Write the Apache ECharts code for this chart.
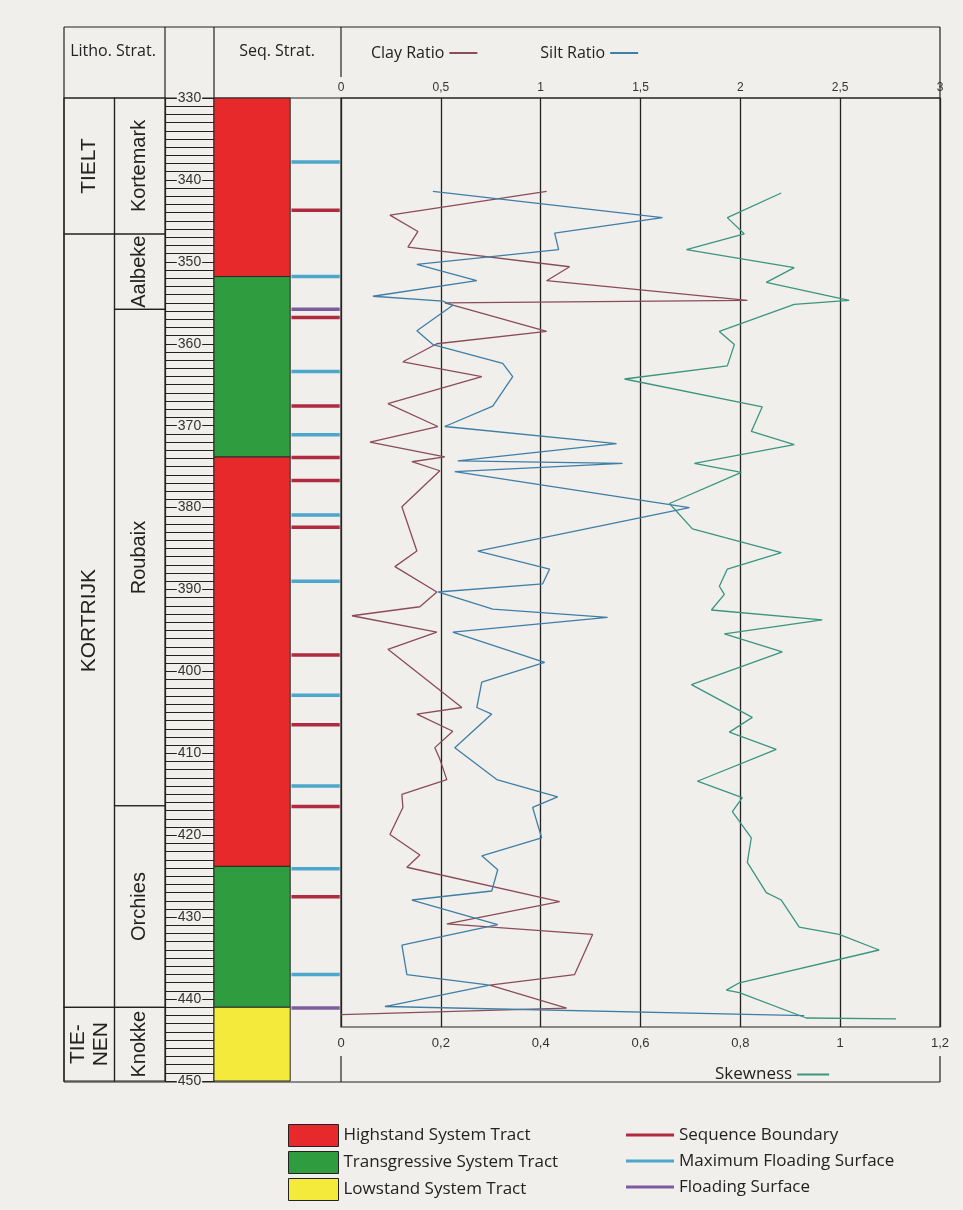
<!DOCTYPE html>
<html>
<head>
<meta charset="utf-8">
<title>Litho / Seq. Strat. log</title>
<script src="https://cdn.jsdelivr.net/npm/echarts@6/dist/echarts.min.js"></script>
<style>
  html, body { margin: 0; padding: 0; background: #f1efeb; }
  #main { width: 963px; height: 1210px; }
</style>
</head>
<body>
<div id="main"></div>
<script>
// ---- litho units (depth in m) ----
const formationNames = ['TIELT', 'KORTRIJK', 'TIE-\nNEN'];
const formationTop = [330, 346.6, 441];
const formationBase = [346.6, 441, 450];
const memberNames = ['Kortemark', 'Aalbeke', 'Roubaix', 'Orchies', 'Knokke'];
const memberTop = [330, 346.6, 355.8, 416.4, 441];
const memberBase = [346.6, 355.8, 416.4, 441, 450];

// ---- system tracts ----
const tractTop = [330, 351.8, 373.8, 423.8, 441.0];
const tractBase = [351.8, 373.8, 423.8, 441.0, 450];
const tractType = ['Highstand System Tract', 'Transgressive System Tract', 'Highstand System Tract', 'Transgressive System Tract', 'Lowstand System Tract'];

// ---- surfaces ----
const seqBoundary = [343.7, 356.8, 367.6, 373.9, 376.7, 382.4, 398.0, 406.5, 416.5, 427.5];
const maxFlooding = [337.8, 351.8, 363.4, 371.1, 380.9, 389.0, 402.9, 414.0, 424.1, 437.0];
const flooding = [355.8, 441.1];

// ---- curves ----
const clayDepth = [341.4, 344.3, 346.3, 348.2, 350.6, 352.3, 354.7, 355.0, 358.5, 360.0, 362.2, 364.0, 367.3, 370.1, 372.0,
  373.8, 374.4, 375.5, 379.9, 385.3, 387.2, 390.3, 392.1, 393.2, 395.2, 397.3, 404.4, 405.2, 407.3, 409.3,
  410.7, 413.2, 415.0, 416.6, 419.9, 422.4, 423.9, 428.1, 430.8, 432.1, 437.0, 438.3, 441.1, 441.9];
const clayRatio = [1.03, 0.245, 0.385, 0.335, 1.145, 1.03, 2.035, 0.52, 1.03, 0.48, 0.31, 0.705, 0.235, 0.485, 0.145,
  0.52, 0.355, 0.495, 0.305, 0.38, 0.27, 0.48, 0.395, 0.055, 0.48, 0.235, 0.605, 0.38, 0.56, 0.47,
  0.495, 0.53, 0.305, 0.31, 0.245, 0.395, 0.33, 1.095, 0.53, 1.26, 1.17, 0.745, 1.13, 0.0];

const siltDepth = [341.4, 344.6, 346.5, 348.5, 350.3, 352.3, 354.2, 354.8, 355.3, 358.4, 360.1, 362.4, 364.0, 367.6, 370.1,
  372.2, 374.3, 374.6, 375.6, 380.0, 385.3, 387.5, 389.3, 390.3, 392.4, 393.4, 395.2, 398.9, 401.3, 404.4,
  405.2, 409.3, 413.2, 415.3, 416.6, 418.7, 420.3, 422.5, 424.2, 426.8, 427.9, 430.9, 433.4, 437.0, 438.3,
  440.9, 442.0];
const siltRatio = [0.46, 1.61, 1.07, 1.09, 0.38, 0.68, 0.16, 0.51, 0.56, 0.38, 0.46, 0.81, 0.86, 0.76, 0.52,
  1.38, 0.585, 1.41, 0.57, 1.745, 0.685, 1.045, 1.01, 0.485, 0.76, 1.335, 0.56, 1.02, 0.705, 0.68,
  0.755, 0.57, 0.78, 1.085, 0.96, 0.985, 1.005, 0.705, 0.785, 0.755, 0.355, 0.785, 0.305, 0.33, 0.745,
  0.22, 2.32];

const skewDepth = [341.6, 344.6, 346.6, 348.5, 350.7, 352.5, 354.7, 355.2, 358.5, 360.1, 362.7, 364.3, 367.7, 370.7, 372.3,
  374.6, 375.7, 379.5, 382.6, 385.5, 387.5, 389.6, 390.6, 392.5, 393.7, 395.4, 397.6, 401.6, 405.6, 407.4,
  409.5, 413.4, 415.4, 417.1, 420.3, 423.3, 427.0, 427.9, 431.2, 432.1, 434.0, 438.0, 438.9, 439.2, 442.3, 442.4];
const skewness = [0.882, 0.774, 0.808, 0.692, 0.908, 0.852, 1.018, 0.908, 0.758, 0.788, 0.774, 0.568, 0.844, 0.822, 0.908,
  0.708, 0.802, 0.658, 0.704, 0.882, 0.774, 0.758, 0.768, 0.742, 0.964, 0.768, 0.884, 0.702, 0.824, 0.778,
  0.872, 0.714, 0.804, 0.784, 0.822, 0.814, 0.852, 0.882, 0.918, 0.998, 1.078, 0.798, 0.772, 0.798, 0.932, 1.112];

const PAPER = '#f1efeb';
const INK = '#222';
const tractColors = { 'Highstand System Tract': '#e8292b', 'Transgressive System Tract': '#2f9d3f', 'Lowstand System Tract': '#f3ea3c' };

function zip(a, b) { return a.map((v, i) => [v, b[i]]); }
function comma(v) { return String(v).replace('.', ','); }

function unitItem(names, col, fontSize) {
  return function (params, api) {
    const p0 = api.coord([col, api.value(0)]);
    const p1 = api.coord([col + 1, api.value(1)]);
    const w = p1[0] - p0[0], h = p1[1] - p0[1];
    return {
      type: 'group',
      children: [
        { type: 'rect', shape: { x: p0[0], y: p0[1], width: w, height: h },
          style: { fill: 'none', stroke: INK, lineWidth: 1.2 } },
        { type: 'text', x: p0[0] + w / 2, y: p0[1] + h / 2, rotation: Math.PI / 2,
          style: { text: names[params.dataIndex], fontSize: fontSize, fontFamily: 'Liberation Sans',
            fill: INK, align: 'center', verticalAlign: 'middle', lineHeight: fontSize + 2 } }
      ]
    };
  };
}

function tractItem(params, api) {
  const a = api.coord([0, api.value(0)]);
  const b = api.coord([0.6, api.value(1)]);
  return { type: 'rect', shape: { x: a[0], y: a[1], width: b[0] - a[0], height: b[1] - a[1] },
    style: { fill: api.visual('color'), stroke: '#2a2a2a', lineWidth: 1 } };
}

function surfaceItem(params, api) {
  const a = api.coord([0.61, api.value(0)]);
  const b = api.coord([0.99, api.value(0)]);
  return { type: 'line', shape: { x1: a[0], y1: a[1], x2: b[0], y2: b[1] },
    style: { stroke: api.visual('color'), lineWidth: 3.5 } };
}

function tractSeries(name) {
  const data = [];
  tractType.forEach((t, i) => { if (t === name) data.push([tractTop[i], tractBase[i]]); });
  return { name: name, type: 'custom', xAxisIndex: 1, yAxisIndex: 1, renderItem: tractItem,
    itemStyle: { color: tractColors[name] }, data: data };
}

function surfaceSeries(name, depths, color) {
  return { name: name, type: 'custom', xAxisIndex: 1, yAxisIndex: 1, renderItem: surfaceItem,
    itemStyle: { color: color }, data: depths.map(d => [d]), z: 3 };
}

function hline(x1, x2, y) { return { type: 'line', shape: { x1: x1, y1: y, x2: x2, y2: y }, style: { stroke: INK, lineWidth: 1.2 } }; }
function vline(x, y1, y2) { return { type: 'line', shape: { x1: x, y1: y1, x2: x, y2: y2 }, style: { stroke: INK, lineWidth: 1.2 } }; }

const legendText = { fontFamily: 'Open Sans', fontSize: 17, color: INK };

const chart = echarts.init(document.getElementById('main'), null, { renderer: 'canvas' });
const option = {
  animation: false,
  backgroundColor: PAPER,
  grid: [
    { left: 165, top: 98, width: 49, height: 983 },   // depth ruler
    { left: 214, top: 98, width: 127, height: 983 },  // seq strat
    { left: 64, top: 98, width: 101, height: 983 },   // litho strat
    { left: 341, top: 98, width: 599, height: 929, show: true, borderColor: INK, borderWidth: 1.2, backgroundColor: 'transparent' }
  ],
  xAxis: [
    { gridIndex: 0, type: 'value', min: 0, max: 1, show: false },
    { gridIndex: 1, type: 'value', min: 0, max: 1, show: false },
    { gridIndex: 2, type: 'value', min: 0, max: 2, show: false },
    { gridIndex: 3, type: 'value', position: 'top', min: 0, max: 3, interval: 0.5,
      axisLine: { show: false }, axisTick: { show: false },
      axisLabel: { margin: 4, fontSize: 12, fontFamily: 'Liberation Sans', color: '#333', formatter: comma },
      splitLine: { show: true, lineStyle: { color: INK, width: 1.3 } } },
    { gridIndex: 3, type: 'value', position: 'bottom', min: 0, max: 1.2, interval: 0.2,
      axisLine: { show: false }, axisTick: { show: false },
      axisLabel: { margin: 10, fontSize: 13, fontFamily: 'Liberation Sans', color: '#333', formatter: comma },
      splitLine: { show: false } }
  ],
  yAxis: [
    { gridIndex: 0, type: 'value', inverse: true, min: 330, max: 450, interval: 1,
      axisLine: { show: true, lineStyle: { color: INK, width: 1.2 } }, axisTick: { show: false },
      splitLine: { show: true, lineStyle: { color: INK, width: 1 } },
      axisLabel: { inside: true, margin: 24.5, align: 'center', fontSize: 14, fontFamily: 'Liberation Sans',
        color: '#333', backgroundColor: PAPER, padding: [0, 1], showMinLabel: true, showMaxLabel: true,
        formatter: v => (v % 10 === 0 ? String(v) : '') } },
    { gridIndex: 1, type: 'value', inverse: true, min: 330, max: 450, show: false },
    { gridIndex: 2, type: 'value', inverse: true, min: 330, max: 450, show: false },
    { gridIndex: 3, type: 'value', inverse: true, min: 330, max: 443.4, show: false }
  ],
  legend: [
    { left: 366, top: 40, align: 'right', itemGap: 63, itemWidth: 28, itemHeight: 2, icon: 'rect', selectedMode: false,
      textStyle: { fontFamily: 'Open Sans', fontSize: 16, color: INK }, data: ['Clay Ratio', 'Silt Ratio'] },
    { left: 710, top: 1061, align: 'right', itemWidth: 32, itemHeight: 2, icon: 'rect', selectedMode: false,
      textStyle: legendText, data: ['Skewness'] },
    { left: 283, top: 1119, orient: 'vertical', itemWidth: 50, itemHeight: 22, itemGap: 4, icon: 'rect', selectedMode: false,
      itemStyle: { borderColor: INK, borderWidth: 1 }, textStyle: legendText,
      data: ['Highstand System Tract', 'Transgressive System Tract', 'Lowstand System Tract'] },
    { left: 621, top: 1119, orient: 'vertical', itemWidth: 48, itemHeight: 22, itemGap: 4, selectedMode: false,
      icon: 'path://M0,0 M0,9.5 L48,9.5 L48,12.5 L0,12.5 Z M48,22', textStyle: legendText,
      data: ['Sequence Boundary', 'Maximum Floading Surface', 'Floading Surface'] }
  ],
  graphic: [
    hline(64, 940, 27), hline(64, 940, 98), hline(64, 940, 1082),
    vline(64, 27, 1082), vline(940, 27, 98), vline(165, 27, 98), vline(214, 27, 1082), vline(341, 27, 77),
    vline(341, 1056, 1082), vline(940, 1056, 1082),
    { type: 'text', x: 113, y: 51, style: { text: 'Litho. Strat.', fontFamily: 'Open Sans', fontSize: 16, fill: INK, align: 'center', verticalAlign: 'middle' } },
    { type: 'text', x: 277, y: 51, style: { text: 'Seq. Strat.', fontFamily: 'Open Sans', fontSize: 16, fill: INK, align: 'center', verticalAlign: 'middle' } }
  ],
  series: [
    { type: 'custom', xAxisIndex: 2, yAxisIndex: 2, renderItem: unitItem(formationNames, 0, 21),
      data: zip(formationTop, formationBase) },
    { type: 'custom', xAxisIndex: 2, yAxisIndex: 2, renderItem: unitItem(memberNames, 1, 20),
      data: zip(memberTop, memberBase) },
    tractSeries('Highstand System Tract'),
    tractSeries('Transgressive System Tract'),
    tractSeries('Lowstand System Tract'),
    surfaceSeries('Sequence Boundary', seqBoundary, '#b02a40'),
    surfaceSeries('Maximum Floading Surface', maxFlooding, '#4da6cc'),
    surfaceSeries('Floading Surface', flooding, '#7d5c9e'),
    { name: 'Clay Ratio', type: 'line', xAxisIndex: 3, yAxisIndex: 3, showSymbol: false, z: 4,
      lineStyle: { color: '#8a4b5b', width: 1.3 }, itemStyle: { color: '#8a4b5b' },
      data: zip(clayRatio, clayDepth) },
    { name: 'Silt Ratio', type: 'line', xAxisIndex: 3, yAxisIndex: 3, showSymbol: false, z: 4,
      lineStyle: { color: '#3f7ea6', width: 1.3 }, itemStyle: { color: '#3f7ea6' },
      data: zip(siltRatio, siltDepth) },
    { name: 'Skewness', type: 'line', xAxisIndex: 4, yAxisIndex: 3, showSymbol: false, z: 4,
      lineStyle: { color: '#3a9580', width: 1.3 }, itemStyle: { color: '#3a9580' },
      data: zip(skewness, skewDepth) }
  ]
};
chart.setOption(option);
window.addEventListener('resize', chart.resize);
</script>
</body>
</html>
